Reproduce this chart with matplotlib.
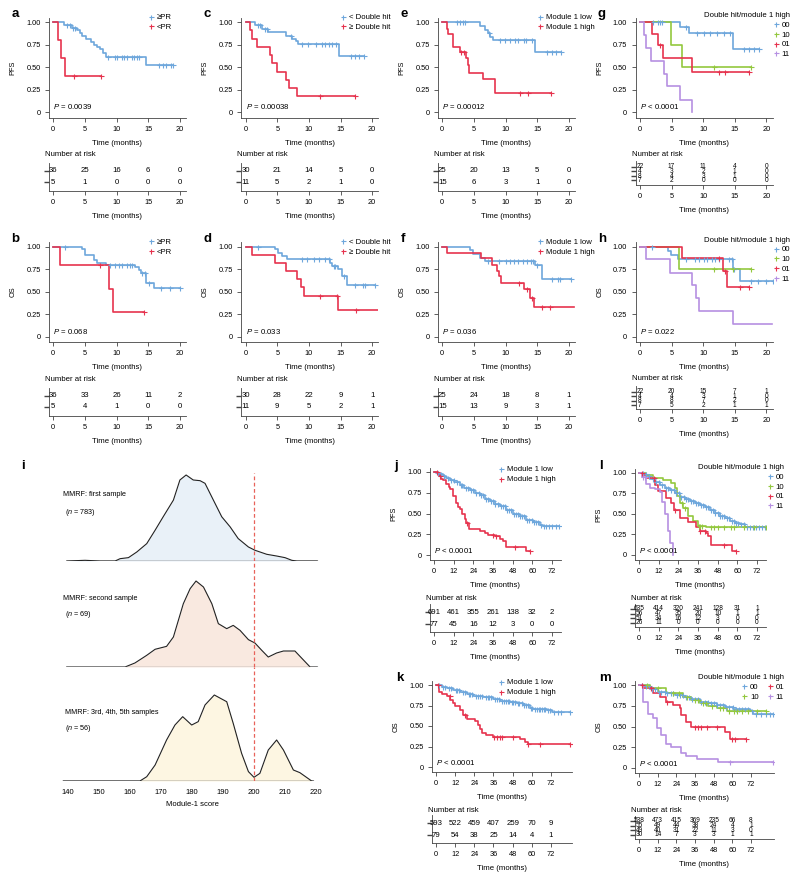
import numpy as np
import matplotlib
matplotlib.use("Agg")
import matplotlib.pyplot as plt
from matplotlib.lines import Line2D

plt.rcParams["font.family"] = ["Liberation Sans", "DejaVu Sans"]
plt.rcParams["mathtext.fontset"] = "custom"
plt.rcParams["mathtext.it"] = "Liberation Sans:italic"
plt.rcParams["mathtext.rm"] = "Liberation Sans"

BLUE = "#6ea7dc"
RED = "#e6334e"
GREEN = "#93c83e"
PURPLE = "#b690e2"
AXC = "#444444"
FS = 5.3
LFS = 5.6

# ---------------- survival curves: step times, survival after step, censor times
# a: PFS by response
a_ge_t = [1.7, 2.9, 3.8, 4.2, 4.5, 5.1, 6.0, 6.4, 6.9, 7.4, 7.9, 8.3, 14.6]
a_ge_s = [0.97, 0.94, 0.91, 0.88, 0.85, 0.81, 0.78, 0.75, 0.73, 0.70, 0.66, 0.62, 0.53]
a_ge_c = [2.1, 2.6, 3.1, 3.5, 8.6, 9.7, 10.1, 10.8, 11.2, 11.7, 12.4, 12.8, 13.2, 13.5,
          16.8, 17.4, 17.9, 18.6, 18.9]
a_lt_t = [0.8, 1.15, 1.9]
a_lt_s = [0.80, 0.60, 0.40]
a_lt_c = [3.3, 7.5]
# b: OS by response
b_ge_t = [4.6, 5.0, 6.5, 6.9, 8.3, 13.0, 13.5, 13.9, 14.7, 15.9]
b_ge_s = [0.97, 0.91, 0.85, 0.82, 0.80, 0.77, 0.74, 0.71, 0.60, 0.54]
b_ge_c = [1.9, 8.9, 9.7, 10.4, 10.9, 11.6, 12.1, 12.5, 14.1, 14.5, 15.2, 17.1, 18.4, 20.0]
b_lt_t = [1.05, 8.8, 9.4]
b_lt_s = [0.80, 0.53, 0.27]
b_lt_c = [7.4, 14.4]
# c: PFS by double hit
c_lo_t = [1.5, 2.55, 3.6, 6.3, 7.3, 7.9, 8.2, 14.7]
c_lo_s = [0.97, 0.93, 0.89, 0.85, 0.82, 0.79, 0.76, 0.63]
c_lo_c = [1.9, 2.3, 3.1, 3.35, 7.1, 8.9, 9.8, 11.1, 12.0, 12.5, 13.2, 13.7, 14.3,
          16.6, 17.3, 18.0, 18.7]
c_hi_t = [0.7, 1.0, 1.75, 3.8, 4.15, 4.9, 6.4, 6.8, 8.1]
c_hi_s = [0.91, 0.82, 0.73, 0.64, 0.55, 0.45, 0.36, 0.27, 0.18]
c_hi_c = [11.7, 17.3]
# d: OS by double hit
d_lo_t = [4.7, 5.1, 5.7, 6.5, 13.3, 13.7, 14.6, 15.2, 15.95]
d_lo_s = [0.97, 0.93, 0.90, 0.86, 0.82, 0.79, 0.75, 0.68, 0.58]
d_lo_c = [1.9, 8.9, 9.7, 10.8, 11.6, 12.5, 13.2, 13.9, 14.2, 15.5, 17.3, 18.5, 18.8, 20.4]
d_hi_t = [1.0, 4.7, 6.3, 8.1, 8.7, 9.3, 14.6]
d_hi_s = [0.91, 0.82, 0.73, 0.64, 0.55, 0.45, 0.30]
d_hi_c = [11.8, 14.5, 17.5]
# e: PFS by module 1
e_lo_t = [6.0, 6.8, 7.3, 7.6, 8.1, 14.7]
e_lo_s = [0.96, 0.92, 0.88, 0.84, 0.80, 0.67]
e_lo_c = [2.3, 2.8, 3.2, 3.6, 7.45, 9.2, 9.9, 10.7, 11.5, 11.9, 12.9, 13.3, 14.2,
          16.6, 17.4, 18.0, 18.8]
e_hi_t = [0.7, 0.95, 1.75, 2.8, 3.75, 4.0, 4.3, 6.5, 8.35]
e_hi_s = [0.93, 0.87, 0.73, 0.67, 0.60, 0.53, 0.44, 0.37, 0.22]
e_hi_c = [3.0, 3.5, 12.3, 13.5, 17.2]
# f: OS by module 1
f_lo_t = [4.4, 4.8, 6.0, 6.8, 14.7, 15.8]
f_lo_s = [0.96, 0.92, 0.88, 0.84, 0.80, 0.64]
f_lo_c = [7.3, 8.9, 10.1, 10.7, 11.4, 11.9, 12.8, 13.4, 14.1, 14.3, 15.0, 17.4, 18.3, 18.7, 20.3]
f_hi_t = [0.8, 6.1, 7.8, 8.6, 9.0, 9.25, 12.9, 13.8, 14.5]
f_hi_s = [0.93, 0.87, 0.80, 0.73, 0.67, 0.60, 0.53, 0.43, 0.33]
f_hi_c = [12.2, 13.4, 14.2, 15.8, 17.1]
# g: PFS by double hit / module 1 high
g00_t = [6.25, 7.7, 14.7]
g00_s = [0.95, 0.88, 0.70]
g00_c = [2.0, 2.9, 3.2, 3.5, 7.3, 9.0, 10.1, 11.1, 12.2, 13.3, 14.2, 16.4, 17.2, 18.0, 18.8]
g10_t = [4.9, 6.7]
g10_s = [0.75, 0.50]
g10_c = [11.7, 17.5]
g01_t = [1.85, 2.9, 3.7, 8.2]
g01_s = [0.875, 0.75, 0.60, 0.45]
g01_c = [3.2, 12.5, 13.5, 17.3]
g11_t = [0.65, 0.95, 1.75, 3.85, 4.2, 6.4, 8.2]
g11_s = [0.86, 0.71, 0.57, 0.43, 0.29, 0.14, 0.0]
g11_c = []
# h: OS by double hit / module 1 high
h00_t = [4.5, 4.9, 5.95, 14.7, 15.9]
h00_s = [0.95, 0.91, 0.86, 0.75, 0.62]
h00_c = [1.85, 7.3, 8.75, 9.3, 10.2, 10.6, 11.4, 11.9, 12.5, 14.1, 14.5, 14.85,
         17.5, 18.6, 19.9, 21.0]
h10_t = [6.2]
h10_s = [0.75]
h10_c = [11.7, 14.75, 17.5]
h01_t = [6.6, 13.2, 13.7]
h01_s = [0.875, 0.73, 0.55]
h01_c = [12.5, 13.45, 15.9, 17.2]
h11_t = [0.9, 4.7, 8.2, 8.9, 9.3, 14.7]
h11_s = [0.86, 0.71, 0.57, 0.43, 0.29, 0.14]
h11_c = []

# j: MMRF PFS by module 1
j_lo_t = [1.4, 3.5, 5.5, 7.5, 9.6, 12.5, 15.7, 18.5, 21.8, 25, 27.9, 31, 34, 37, 40,
          44.1, 48.2, 52.3, 56.3, 60.4, 64.5, 66.5]
j_lo_s = [0.99, 0.975, 0.956, 0.93, 0.908, 0.88, 0.847, 0.81, 0.779, 0.75, 0.719, 0.68,
          0.647, 0.615, 0.586, 0.538, 0.498, 0.466, 0.426, 0.398, 0.357, 0.345]
j_lo_c = [2.5, 4.2, 6.1, 8.3, 10.4, 12.1, 13.8, 16.2, 17.1, 19.3, 20.6, 22.4, 23.9, 25.6,
          27.2, 28.4, 30.1, 31.7, 33.2, 34.6, 35.9, 37.4, 39.1, 40.6, 41.8, 43.2, 44.7,
          45.9, 47.2, 48.6, 49.8, 51.1, 52.7, 53.9, 55.2, 56.8, 58.1, 59.5, 60.9, 62.3,
          63.6, 65.4, 67.2, 68.6, 70.4, 72.3, 74.5, 76.3]
j_hi_t = [2.4, 3.0, 4.5, 5.5, 7.5, 9.2, 10.0, 11.6, 13.2, 14.6, 15.7, 17.3, 18.7, 19.7,
          21.2, 27.9, 30.9, 32.9, 37.0, 40.0, 42.0, 43.7, 55.9]
j_hi_s = [0.98, 0.95, 0.92, 0.90, 0.86, 0.82, 0.79, 0.71, 0.63, 0.58, 0.56, 0.50, 0.43,
          0.38, 0.31, 0.29, 0.27, 0.245, 0.225, 0.19, 0.165, 0.10, 0.05]
j_hi_c = [2.0, 3.5, 19.9, 36.3, 38.0, 49.2, 58.8]
# k: MMRF OS by module 1
k_lo_t = [3.5, 6.7, 10.9, 15.0, 19.2, 23.4, 29.6, 35.9, 40.1, 46.3, 50.5, 54.7, 58.9,
          61.0, 69.3, 72.4]
k_lo_s = [0.98, 0.96, 0.94, 0.91, 0.89, 0.87, 0.85, 0.83, 0.81, 0.79, 0.775, 0.755,
          0.725, 0.705, 0.69, 0.665]
k_lo_c = [2.1, 4.3, 5.6, 8.2, 9.6, 12.3, 13.4, 14.2, 17.1, 18.3, 20.4, 21.6, 22.8, 25.1,
          26.2, 27.5, 28.6, 31.2, 32.5, 33.4, 34.7, 37.2, 38.3, 39.4, 41.3, 42.4, 43.6,
          44.8, 45.6, 47.3, 48.2, 49.4, 51.3, 52.1, 53.6, 55.4, 56.2, 57.5, 59.6, 60.4,
          62.2, 63.1, 64.5, 65.3, 66.4, 67.6, 68.4, 70.2, 71.5, 74.1, 76.3, 78.2, 84.0]
k_hi_t = [2.1, 3.5, 6.7, 8.8, 10.9, 11.9, 15.0, 16.7, 19.2, 24.4, 26.5, 27.6, 28.6,
          31.3, 35.9, 52.6, 55.7, 57.4]
k_hi_s = [0.91, 0.89, 0.86, 0.82, 0.78, 0.74, 0.70, 0.64, 0.58, 0.56, 0.51, 0.46, 0.42,
          0.39, 0.37, 0.34, 0.30, 0.28]
k_hi_c = [1.0, 8.5, 18.0, 36.5, 38.0, 40.0, 41.5, 48.0, 57.8, 65.0, 84.0]
# l: MMRF PFS by double hit / module 1 high
l00_t = [2.4, 4.5, 6.5, 9.6, 12.6, 15.7, 18.7, 21.8, 24.8, 27.9, 30.9, 34.0, 37.0,
         40.1, 43.1, 46.2, 49.2, 52.3, 55.3, 58.4, 61.4, 64.5]
l00_s = [0.99, 0.96, 0.93, 0.89, 0.85, 0.82, 0.79, 0.75, 0.71, 0.685, 0.66, 0.64, 0.61,
         0.58, 0.55, 0.51, 0.48, 0.45, 0.42, 0.395, 0.38, 0.34]
l00_c = [2.2, 4.1, 6.3, 8.4, 10.6, 12.2, 14.3, 16.5, 17.8, 19.6, 21.1, 22.7, 24.2, 25.9,
         27.3, 28.8, 30.2, 31.6, 33.1, 34.7, 36.2, 37.6, 39.3, 40.8, 42.2, 43.7, 45.1,
         46.6, 47.9, 49.5, 50.8, 52.1, 53.7, 55.0, 56.6, 57.9, 59.4, 60.7, 62.3, 63.8,
         65.6, 67.5, 69.3, 71.2, 73.1, 75.2, 76.6]
l10_t = [4.5, 8.5, 14.6, 19.7, 21.8, 23.2, 24.8, 26.8, 29.9, 32.9, 36.0, 41.0]
l10_s = [0.97, 0.94, 0.91, 0.88, 0.82, 0.72, 0.64, 0.57, 0.48, 0.41, 0.355, 0.345]
l10_c = [26.0, 28.0, 36.5, 37.5, 38.5, 44.0, 46.0, 48.0, 52.0, 56.0, 58.0, 64.0, 70.0, 77.5]
l01_t = [2.4, 4.5, 9.6, 11.6, 16.7, 19.7, 21.1, 24.8, 29.9, 35.0, 37.0, 40.7, 42.1,
         44.1, 57.0]
l01_s = [0.97, 0.94, 0.85, 0.78, 0.70, 0.63, 0.55, 0.45, 0.40, 0.34, 0.29, 0.27, 0.23,
         0.12, 0.05]
l01_c = [2.0, 9.0, 22.0, 37.5, 40.0, 52.0, 59.0]
l11_t = [2.0, 4.5, 6.5, 9.6, 12.6, 14.2, 15.7, 17.7, 19.1, 20.7]
l11_s = [0.95, 0.87, 0.82, 0.80, 0.77, 0.65, 0.50, 0.29, 0.15, 0.0]
l11_c = [2.4, 3.5]
# m: MMRF OS by double hit / module 1 high
m00_t = [2.6, 6.9, 12.3, 17.6, 23.0, 28.4, 33.7, 39.1, 44.5, 49.9, 55.2, 60.6, 71.4, 73.5]
m00_s = [0.99, 0.95, 0.92, 0.90, 0.875, 0.85, 0.83, 0.80, 0.78, 0.76, 0.74, 0.705,
         0.69, 0.645]
m00_c = [2.1, 4.4, 6.2, 8.5, 10.3, 12.6, 14.1, 16.4, 18.2, 20.3, 22.1, 24.4, 26.2, 28.1,
         30.3, 32.2, 34.1, 36.3, 38.2, 40.1, 42.4, 44.2, 46.1, 48.3, 50.2, 52.1, 54.3,
         56.2, 58.1, 60.4, 62.2, 64.1, 66.3, 68.2, 70.1, 72.4, 75.2, 78.1, 81.3, 84.2, 86.0]
m10_t = [6.9, 17.6, 28.4, 33.7, 39.1, 44.5, 49.9, 56.3]
m10_s = [0.96, 0.90, 0.85, 0.82, 0.78, 0.745, 0.72, 0.685]
m10_c = [5.0, 12.0, 22.0, 26.0, 31.0, 36.0, 38.0, 41.0, 43.0, 47.0, 52.0, 54.0, 58.0,
         61.0, 63.0, 66.0, 70.0, 76.0, 81.5]
m01_t = [2.6, 9.0, 13.3, 17.6, 21.9, 26.2, 27.3, 30.5, 33.7, 55.2, 58.5]
m01_s = [0.96, 0.90, 0.85, 0.80, 0.76, 0.72, 0.64, 0.56, 0.50, 0.435, 0.355]
m01_c = [2.0, 8.0, 18.0, 36.0, 38.0, 40.0, 44.0, 50.0, 60.0, 62.0, 68.8]
m11_t = [2.6, 5.8, 9.0, 11.6, 14.4, 17.6, 20.8, 27.3, 30.5, 37.0, 50.9]
m11_s = [0.80, 0.65, 0.60, 0.48, 0.40, 0.29, 0.25, 0.18, 0.15, 0.11, 0.07]
m11_c = [58.5, 86.0]

# ---------------- numbers at risk
small_ticks = [0, 5, 10, 15, 20]
big_ticks = [0, 12, 24, 36, 48, 60, 72]
risk_a = [[36, 25, 16, 6, 0], [5, 1, 0, 0, 0]]
risk_b = [[36, 33, 26, 11, 2], [5, 4, 1, 0, 0]]
risk_c = [[30, 21, 14, 5, 0], [11, 5, 2, 1, 0]]
risk_d = [[30, 28, 22, 9, 1], [11, 9, 5, 2, 1]]
risk_e = [[25, 20, 13, 5, 0], [15, 6, 3, 1, 0]]
risk_f = [[25, 24, 18, 8, 1], [15, 13, 9, 3, 1]]
risk_g = [[22, 17, 11, 4, 0], [4, 3, 2, 1, 0], [8, 4, 3, 1, 0], [7, 2, 0, 0, 0]]
risk_h = [[22, 20, 15, 7, 1], [4, 4, 3, 1, 0], [8, 8, 7, 2, 0], [7, 5, 2, 1, 1]]
risk_j = [[691, 461, 355, 261, 138, 32, 2], [77, 45, 16, 12, 3, 0, 0]]
risk_k = [[593, 522, 459, 407, 259, 70, 9], [79, 54, 38, 25, 14, 4, 1]]
risk_l = [[635, 414, 320, 241, 128, 31, 1], [56, 47, 35, 20, 10, 1, 1],
          [51, 34, 16, 12, 3, 0, 0], [26, 11, 0, 0, 0, 0, 0]]
risk_m = [[538, 473, 415, 369, 235, 66, 8], [55, 49, 44, 38, 24, 4, 1],
          [49, 40, 31, 22, 11, 3, 0], [30, 14, 7, 3, 3, 1, 1]]

# ---------------- module-1 score densities (scaled to peak = 1)
dens1_x = [139.6, 145.5, 150.3, 155.2, 156.8, 159.5, 162.2, 165.4, 168.1, 170.7, 174.0,
           176.1, 178.1, 180.4, 182.6, 184.2, 186.9, 189.6, 192.3, 194.9, 198.2, 200.3,
           204.1, 207.3, 210.0, 212.2, 213.8, 220.4]
dens1_y = [0, 0.008, 0, 0, 0.027, 0.039, 0.105, 0.202, 0.358, 0.514, 0.708, 0.942, 1.0,
           0.942, 0.934, 0.903, 0.708, 0.514, 0.397, 0.261, 0.163, 0.125, 0.078, 0.058,
           0.039, 0.008, 0, 0]
dens2_x = [139.6, 158.4, 161.6, 165.4, 168.1, 171.8, 174.0, 177.2, 179.4, 181.3, 183.7,
           186.4, 188.5, 191.2, 193.3, 195.5, 198.2, 200.3, 202.5, 204.6, 207.3, 209.5,
           213.2, 218.1, 220.4]
dens2_y = [0, 0, 0.047, 0.136, 0.206, 0.240, 0.349, 0.736, 0.911, 1.0, 0.93, 0.736,
           0.504, 0.446, 0.484, 0.426, 0.318, 0.279, 0.194, 0.116, 0.163, 0.186, 0.186,
           0, 0]
dens3_x = [138.5, 163.2, 165.4, 168.1, 171.8, 174.5, 177.0, 179.9, 182.0, 184.2, 187.2,
           191.2, 193.3, 196.0, 198.2, 200.0, 201.9, 204.6, 207.3, 209.5, 212.7, 214.8,
           218.6, 219.1]
dens3_y = [0, 0, 0.05, 0.186, 0.477, 0.651, 0.748, 0.651, 0.69, 0.884, 1.0, 0.922, 0.67,
           0.322, 0.109, 0.043, 0.089, 0.36, 0.477, 0.36, 0.128, 0.097, 0, 0]
score_ticks = [140, 150, 160, 170, 180, 190, 200, 210, 220]
cutoff = 200

W, H = 800, 882
fig = plt.figure(figsize=(W / 100, H / 100), dpi=100)


def rect(l, t, r, b):
    return [l / W, 1 - b / H, (r - l) / W, (b - t) / H]


def ftext(x, y, s, **kw):
    kw.setdefault("fontsize", FS)
    fig.text(x / W, 1 - y / H, s, **kw)


def style(ax):
    for sp in ["top", "right"]:
        ax.spines[sp].set_visible(False)
    for sp in ["left", "bottom"]:
        ax.spines[sp].set_linewidth(0.6)
        ax.spines[sp].set_color(AXC)
    ax.tick_params(length=3, width=0.6, labelsize=FS, pad=3, color=AXC)


def km_axes(x0, sx, y1, sy, xlo, xhi, ticks, ylab):
    ax = fig.add_axes(rect(x0 + xlo * sx, y1 - 0.05 * sy, x0 + xhi * sx, y1 + 1.06 * sy))
    ax.set_xlim(xlo, xhi)
    ax.set_ylim(-0.06, 1.05)
    ax.set_xticks(ticks)
    ax.set_yticks([0, 0.25, 0.5, 0.75, 1.0])
    ax.set_yticklabels(["0", "0.25", "0.50", "0.75", "1.00"])
    style(ax)
    ax.set_xlabel("Time (months)", fontsize=FS + 0.3, labelpad=5)
    ax.set_ylabel(ylab, fontsize=FS, labelpad=7)
    return ax


def km(ax, t, s, cens, color, end=None):
    last = max(list(t) + list(cens)) if end is None else end
    xs = [0] + list(t) + [last]
    ys = [1.0] + list(s) + [s[-1]]
    ax.step(xs, ys, where="post", color=color, lw=1.2, zorder=3)
    if len(cens):
        idx = np.searchsorted(t, cens, side="right")
        cy = np.array([1.0] + list(s))[idx]
        ax.plot(cens, cy, ls="none", marker="+", ms=3.6, mew=0.8, color=color, zorder=4)


def risk_axes(x0, sx, xlo, xhi, top, rows, bottom, table, colors, ticks, fs, title_y):
    ax = fig.add_axes(rect(x0 + xlo * sx, top, x0 + xhi * sx, bottom))
    ax.set_xlim(xlo, xhi)
    ax.set_ylim(bottom, top)
    for yy, row in zip(rows, table):
        for tt, n in zip(ticks, row):
            ax.text(tt, yy, str(n), ha="center", va="center", fontsize=fs)
    ax.set_xticks(ticks)
    ax.set_yticks(rows)
    ax.set_yticklabels([])
    style(ax)
    ax.tick_params(axis="y", length=3.5, width=1.0)
    for tk, c in zip(ax.yaxis.get_major_ticks(), colors):
        tk.tick1line.set_color(c)
    ax.set_xlabel("Time (months)", fontsize=FS + 0.3, labelpad=5)
    ftext(x0 + xlo * sx - 4, title_y, "Number at risk", ha="left", va="center",
          fontsize=FS + 0.3)
    return ax


def legend(ax, labels, colors, x, y, title=None, ncol=1, loc="upper left"):
    hs = [Line2D([], [], ls="none", marker="+", ms=3.6, mew=0.8, color=c) for c in colors]
    ax.legend(hs, labels, loc=loc, bbox_to_anchor=(x / W, 1 - y / H),
              bbox_transform=fig.transFigure, frameon=False, fontsize=LFS,
              handlelength=0.8, handletextpad=0.35, labelspacing=0.3, borderpad=0,
              borderaxespad=0, ncol=ncol, title=title, title_fontsize=LFS,
              alignment="right", columnspacing=1.0)


def ptext(ax, s, yv=0.06):
    ax.text(0, yv, s, ha="left", va="center", fontsize=FS + 0.3)


def letter(x, y, s):
    ftext(x, y, s, fontsize=9.5, fontweight="bold", ha="left", va="center")


SX = 6.32
SY = 90
XLO, XHI = -0.7, 21.0
two = [BLUE, RED]
four = [BLUE, GREEN, RED, PURPLE]

# ---- rows 1-2: small cohort
cols = [(53.3, "a", "b"), (245.7, "c", "d"), (442.3, "e", "f"), (640.0, "g", "h")]
curves_top = {
    "a": [(a_ge_t, a_ge_s, a_ge_c, BLUE, None), (a_lt_t, a_lt_s, a_lt_c, RED, None)],
    "b": [(b_ge_t, b_ge_s, b_ge_c, BLUE, None), (b_lt_t, b_lt_s, b_lt_c, RED, None)],
    "c": [(c_lo_t, c_lo_s, c_lo_c, BLUE, None), (c_hi_t, c_hi_s, c_hi_c, RED, None)],
    "d": [(d_lo_t, d_lo_s, d_lo_c, BLUE, None), (d_hi_t, d_hi_s, d_hi_c, RED, 20.9)],
    "e": [(e_lo_t, e_lo_s, e_lo_c, BLUE, None), (e_hi_t, e_hi_s, e_hi_c, RED, None)],
    "f": [(f_lo_t, f_lo_s, f_lo_c, BLUE, None), (f_hi_t, f_hi_s, f_hi_c, RED, 20.9)],
    "g": [(g00_t, g00_s, g00_c, BLUE, None), (g10_t, g10_s, g10_c, GREEN, None),
          (g01_t, g01_s, g01_c, RED, None), (g11_t, g11_s, g11_c, PURPLE, None)],
    "h": [(h00_t, h00_s, h00_c, BLUE, None), (h10_t, h10_s, h10_c, GREEN, None),
          (h01_t, h01_s, h01_c, RED, None), (h11_t, h11_s, h11_c, PURPLE, 20.9)],
}
pvals = {"a": "0.0039", "b": "0.068", "c": "0.00038", "d": "0.033", "e": "0.00012",
         "f": "0.036", "g": None, "h": "0.022"}
risks = {"a": risk_a, "b": risk_b, "c": risk_c, "d": risk_d, "e": risk_e, "f": risk_f,
         "g": risk_g, "h": risk_h}
leg_labels = {"a": ["\u2265PR", "<PR"], "c": ["< Double hit", "\u2265 Double hit"],
              "e": ["Module 1 low", "Module 1 high"]}
leg_labels["b"] = leg_labels["a"]
leg_labels["d"] = leg_labels["c"]
leg_labels["f"] = leg_labels["e"]

for x0, top_id, bot_id in cols:
    for pid, y1, ylab, dy in [(top_id, 22.3, "PFS", 0), (bot_id, 246.7, "OS", 224.5)]:
        ax = km_axes(x0, SX, y1, SY, XLO, XHI, small_ticks, ylab)
        for t, s, c, col, end in curves_top[pid]:
            km(ax, t, s, c, col, end)
        if pvals[pid] is None:
            ptext(ax, r"$P$ < 0.0001")
        else:
            ptext(ax, r"$P$ = " + pvals[pid])
        letter(x0 - 42, 14 + dy, pid)
        if pid in ("g", "h"):
            legend(ax, ["00", "10", "01", "11"], four, 790, 12 + dy,
                   title="Double hit/module 1 high", loc="upper right")
            rows = [167 + dy, 171.5 + dy, 176 + dy, 180.5 + dy]
            risk_axes(x0, SX, XLO, XHI, 161 + dy, rows, 184.5 + dy, risks[pid], four,
                      small_ticks, 4.7, 154 + dy)
        else:
            legend(ax, leg_labels[pid], two, x0 + 94.5, 14 + dy)
            risk_axes(x0, SX, XLO, XHI, 163 + dy, [171 + dy, 182 + dy], 191 + dy,
                      risks[pid], two, small_ticks, FS + 0.3, 155 + dy)


# ---- panel i: density ridges
def ridge(top, bottom, xs, ys, fill, base_col, show_x):
    ax = fig.add_axes(rect(68 - 4 * 3.1, top, 68 + 84 * 3.1, bottom))
    ax.set_xlim(136, 224)
    ax.set_ylim(0, (bottom - top) / 86)
    ax.fill_between(xs, ys, color=fill, lw=0)
    ax.plot(xs, ys, color="#222222", lw=0.8)
    ax.plot([xs[0], xs[-1]], [0, 0], color=base_col, lw=1.0)
    ax.axvline(cutoff, color="#e8625a", lw=0.9, ls=(0, (3, 2)))
    for sp in ax.spines.values():
        sp.set_visible(False)
    ax.set_yticks([])
    if show_x:
        ax.set_xticks(score_ticks)
        ax.tick_params(axis="x", length=0, pad=6, labelsize=FS + 0.2)
        ax.set_xlabel("Module-1 score", fontsize=FS + 0.2, labelpad=3)
    else:
        ax.set_xticks([])
    ax.patch.set_visible(False)
    return ax


ridge(473, 561, dens1_x, dens1_y, "#e9f1f8", "#333333", False)
ridge(561, 667, dens2_x, dens2_y, "#f9e9e0", "#888888", False)
ridge(667, 781, dens3_x, dens3_y, "#fdf6e2", "#333333", True)
RFS = 5.2
ftext(63, 495, "MMRF: first sample", ha="left", va="center", fontsize=RFS)
ftext(65, 512, r"($n$ = 783)", ha="left", va="center", fontsize=RFS)
ftext(63, 599, "MMRF: second sample", ha="left", va="center", fontsize=RFS)
ftext(65, 615, r"($n$ = 69)", ha="left", va="center", fontsize=RFS)
ftext(65, 713, "MMRF: 3rd, 4th, 5th samples", ha="left", va="center", fontsize=RFS)
ftext(65, 729, r"($n$ = 56)", ha="left", va="center", fontsize=RFS)
letter(21, 466, "i")

# ---- panels j-m: MMRF cohort
big = [
    ("j", 434, 1.639, 472, 83, 77.5, "PFS",
     [(j_lo_t, j_lo_s, j_lo_c, BLUE, None), (j_hi_t, j_hi_s, j_hi_c, RED, None)],
     risk_j, two, 466),
    ("k", 436, 1.597, 685, 82, 85.0, "OS",
     [(k_lo_t, k_lo_s, k_lo_c, BLUE, None), (k_hi_t, k_hi_s, k_hi_c, RED, None)],
     risk_k, two, 678),
    ("l", 639, 1.639, 473, 82, 77.5, "PFS",
     [(l00_t, l00_s, l00_c, BLUE, None), (l10_t, l10_s, l10_c, GREEN, None),
      (l01_t, l01_s, l01_c, RED, None), (l11_t, l11_s, l11_c, PURPLE, None)],
     risk_l, four, 466),
    ("m", 639, 1.556, 685, 83, 86.5, "OS",
     [(m00_t, m00_s, m00_c, BLUE, None), (m10_t, m10_s, m10_c, GREEN, None),
      (m01_t, m01_s, m01_c, RED, None), (m11_t, m11_s, m11_c, PURPLE, None)],
     risk_m, four, 678),
]
for pid, x0, sx, y1, sy, xhi, ylab, curves, table, cols_, ly in big:
    ax = km_axes(x0, sx, y1, sy, -2.5, xhi, big_ticks, ylab)
    for t, s, c, col, end in curves:
        km(ax, t, s, c, col, end)
    ptext(ax, r"$P$ < 0.0001", 0.05)
    letter(x0 - 40, ly, pid)
    if pid in ("j", "k"):
        legend(ax, ["Module 1 low", "Module 1 high"], two, 498, y1 - 6)
        top = y1 + 132 if pid == "j" else y1 + 130
        rows = [top + 8, top + 20]
        risk_axes(x0, sx, -2.5, xhi, top, rows, top + 28, table, two, big_ticks,
                  FS + 0.3, top - 5)
    else:
        if pid == "l":
            legend(ax, ["00", "10", "01", "11"], four, 784, y1 - 9,
                   title="Double hit/module 1 high", loc="upper right")
        else:
            legend(ax, ["00", "10", "01", "11"], four, 784, y1 - 11,
                   title="Double hit/module 1 high", ncol=2, loc="upper right")
        top = y1 + 131
        rows = [top + 5, top + 9.5, top + 14, top + 18.5]
        risk_axes(x0, sx, -2.5, xhi, top, rows, top + 23, table, four, big_ticks, 4.7,
                  top - 5)

fig.savefig("out.png", dpi=100)
